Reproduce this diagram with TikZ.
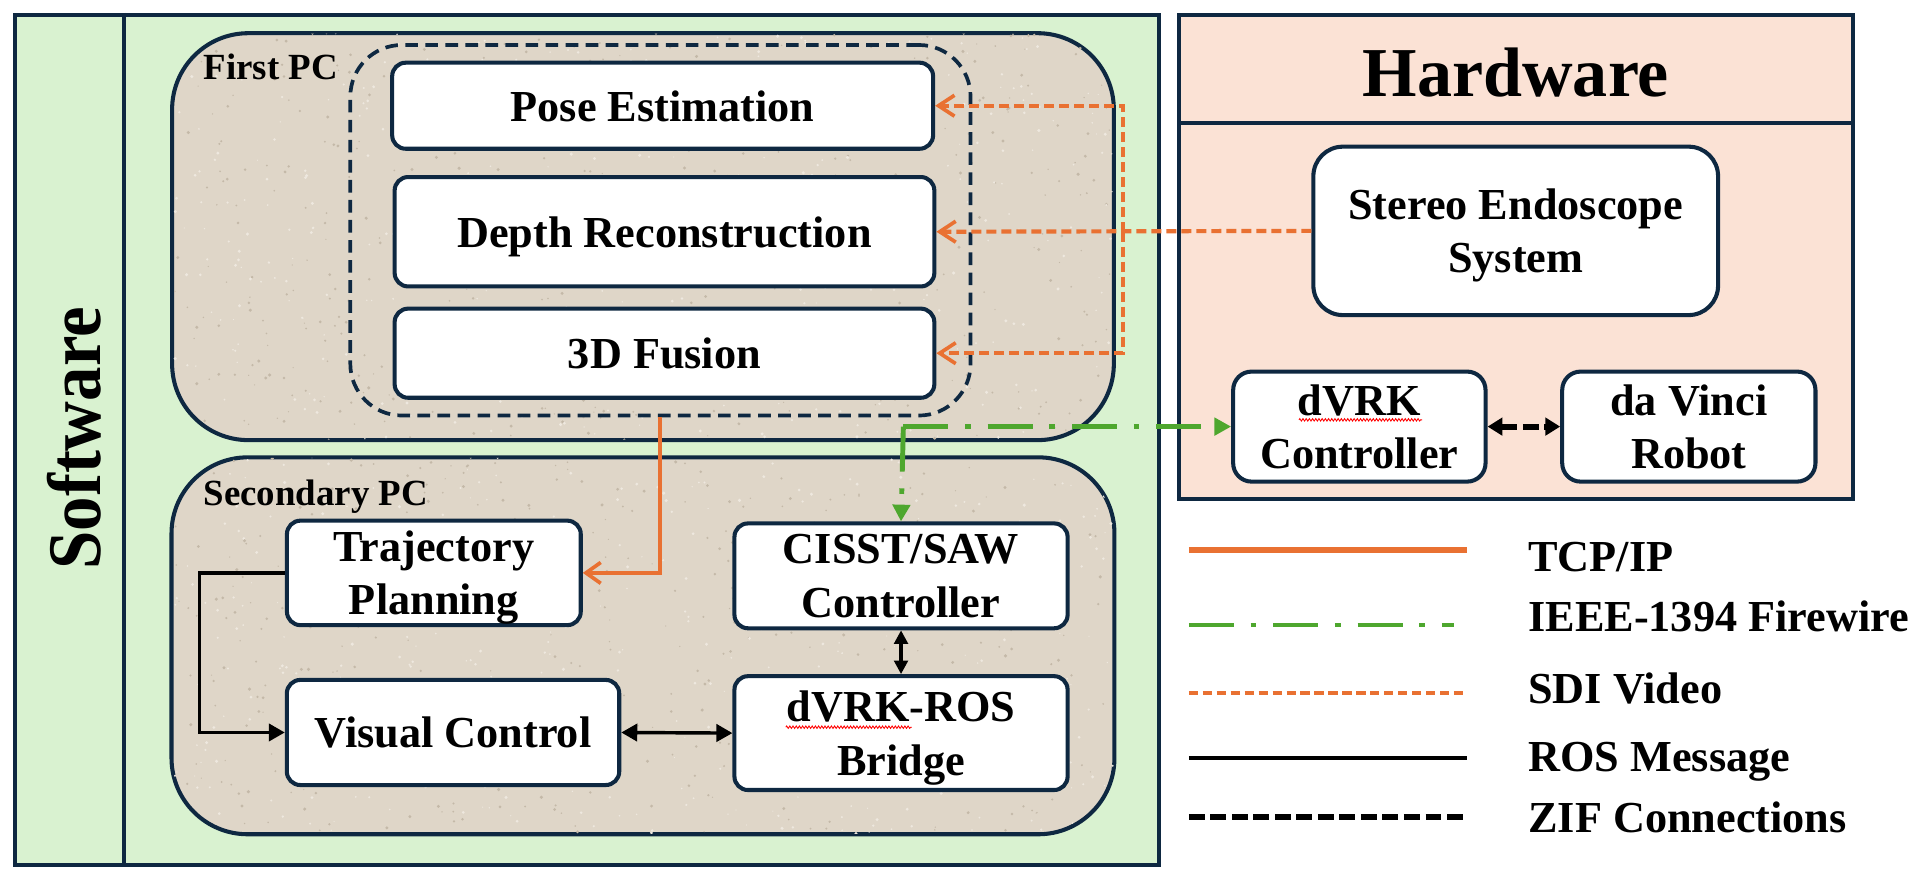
\documentclass[tikz,border=0pt]{standalone}
\usepackage{graphicx}
\usepackage{fontspec}
\setmainfont{Liberation Serif}
\usetikzlibrary{arrows.meta,decorations.pathmorphing}
\definecolor{navy}{HTML}{0E2841}
\definecolor{swgreen}{HTML}{D9F2D0}
\definecolor{hwpink}{HTML}{FBE2D5}
\definecolor{pcbeige}{HTML}{DFD6C8}
\definecolor{pcdark}{HTML}{C4B9A8}
\definecolor{pclight}{HTML}{EEE8DF}
\definecolor{orng}{HTML}{E97132}
\definecolor{grn}{HTML}{4EA72E}
\newcommand\bxfont{\fontsize{36}{43.5}\selectfont\bfseries}
\newcommand\lblfont{\fontsize{30}{34}\selectfont\bfseries}
\begin{document}
\begin{tikzpicture}[x=1pt,y=-1pt,
  box/.style={draw=navy, line width=3.3pt, fill=white, rounded corners=11pt, font=\bxfont, align=center, inner sep=0pt, text depth=0pt},
  frame/.style={draw=navy, line width=3.3pt, inner sep=0pt},
  pcbox/.style={draw=navy, line width=3.3pt, fill=pcbeige, rounded corners=62pt, inner sep=0pt},
  groupbox/.style={draw=navy, line width=3pt, dash pattern=on 10.3pt off 6pt, rounded corners=42pt, inner sep=0pt},
  sdi/.style={draw=orng, line width=3.4pt, dash pattern=on 8.1pt off 4.1pt},
  sditip/.style={-{Straight Barb[length=13pt,width=17pt,line width=3pt]}},
  tcp/.style={draw=orng, line width=3.3pt},
  fw/.style={draw=grn, line width=4pt, dash pattern=on 36.6pt off 13.6pt on 4.6pt off 13.8pt},
  ros/.style={draw=black, line width=2.8pt},
  rostip/.style={{Triangle[length=13pt,width=14pt]}-{Triangle[length=13pt,width=14pt]}},
  zif/.style={draw=black, line width=5pt, dash pattern=on 13pt off 4.5pt},
  lgd/.style={anchor=base west, font=\bxfont},
  squiggle/.style={draw=red, line width=0.7pt, decorate, decoration={zigzag, amplitude=1pt, segment length=2.6pt}}
]
\useasboundingbox[fill=white] (0,0) rectangle (1565,711);

% Software panel
\node[frame, fill=swgreen, minimum width=930.2pt, minimum height=691.1pt] (sw) at (477.4,357.75) {};
\draw[navy, line width=3.3pt] ([xshift=90.5pt]sw.north west) -- ([xshift=90.5pt]sw.south west);
\node[rotate=90, font=\fontsize{56}{60}\selectfont\bfseries] (swt) at (60,356.5) {\scalebox{1}[1.1]{Software}};

% Hardware panel
\node[frame, fill=hwpink, minimum width=547.7pt, minimum height=393.7pt] (hw) at (1233.15,209.05) {};
\draw[navy, line width=3.3pt] ([yshift=-89.5pt]hw.north west) -- ([yshift=-89.5pt]hw.north east);
\node[anchor=base, font=\fontsize{57}{60}\selectfont\bfseries] (hwt) at (1233,78.6) {Hardware};

% PCs
\node[pcbox, minimum width=766pt, minimum height=331pt] (firstpc) at (523,192.5) {};
\node[pcbox, minimum width=767pt, minimum height=306.6pt] (secpc) at (523,525.3) {};
% speckled texture
\pgfmathsetseed{4242}
\begin{scope}
  \clip[rounded corners=62pt] ([shift={(2pt,2pt)}]firstpc.south west) rectangle ([shift={(-2pt,-2pt)}]firstpc.north east);
  \foreach \i in {1,...,900}{
    \pgfmathsetmacro\px{140+766*rnd}
    \pgfmathsetmacro\py{27+331*rnd}
    \pgfmathsetmacro\pr{0.5+0.9*rnd}
    \ifodd\i \fill[pcdark] (\px,\py) circle (\pr); \else \fill[pclight] (\px,\py) circle (\pr); \fi
  }
\end{scope}
\begin{scope}
  \clip[rounded corners=62pt] ([shift={(2pt,2pt)}]secpc.south west) rectangle ([shift={(-2pt,-2pt)}]secpc.north east);
  \foreach \i in {1,...,850}{
    \pgfmathsetmacro\px{139.5+767*rnd}
    \pgfmathsetmacro\py{372+306.6*rnd}
    \pgfmathsetmacro\pr{0.5+0.9*rnd}
    \ifodd\i \fill[pcdark] (\px,\py) circle (\pr); \else \fill[pclight] (\px,\py) circle (\pr); \fi
  }
\end{scope}
\node[anchor=base west, font=\lblfont] (fpcl) at (162,65) {First PC};
\node[anchor=base west, font=\lblfont] (spcl) at (162,411) {Secondary PC};

% first PC group
\node[groupbox, minimum width=504.5pt, minimum height=301.4pt] (grp) at (537.2,187.3) {};
\node[box, minimum width=440pt, minimum height=70pt] (pose) at (539,86) {Pose Estimation};
\node[box, minimum width=439pt, minimum height=89pt] (depth) at (540.5,188.5) {Depth Reconstruction};
\node[box, minimum width=439pt, minimum height=72.5pt] (fusion) at (540.5,287.3) {3D Fusion};

% secondary PC
\node[box, minimum width=239pt, minimum height=85pt] (traj) at (352.9,466) {Trajectory\\Planning};
\node[box, minimum width=271pt, minimum height=85.3pt] (cisst) at (732.9,468.4) {CISST/SAW\\Controller};
\node[box, minimum width=270.4pt, minimum height=85.5pt] (vis) at (368.5,595.8) {Visual Control};
\node[box, minimum width=271pt, minimum height=92.6pt] (bridge) at (732.9,596.3) {dVRK-ROS\\Bridge};

% hardware boxes
\node[box, rounded corners=24pt, minimum width=329.2pt, minimum height=137pt] (stereo) at (1232.9,187.8) {Stereo Endoscope\\System};
\node[box, rounded corners=15pt, minimum width=205.3pt, minimum height=89.5pt] (dvrkc) at (1105.7,347) {dVRK\\Controller};
\node[box, rounded corners=15pt, minimum width=206pt, minimum height=89.5pt] (davinci) at (1373.7,347) {da Vinci\\Robot};

% spell-check squiggles
\draw[squiggle] (1056.6,341.5) -- (1156.7,341.5);
\draw[squiggle] (639.2,591.5) -- (741.8,591.5);

% connectors
\coordinate (sdij) at (913.2,188.5);
\draw[sdi, sditip] (stereo.west) -- (depth.east);
\draw[sdi, sditip] (sdij) |- (pose.east);
\draw[sdi, sditip] (sdij) |- (fusion.east);

\draw[tcp, -{Straight Barb[length=12pt,width=17pt,line width=3pt]}] (grp.south) |- (traj.east);

\coordinate (fwj) at (734.8,347);
\draw[fw, -{Triangle[length=13.6pt,width=14pt]}] (fwj) -- (dvrkc.west);
\draw[fw, -{Triangle[length=13.6pt,width=14pt]}] (fwj) -- (cisst.north);

\draw[ros, -{Triangle[length=13pt,width=14pt]}] (traj.west) -- ++(-69.3,0) |- (vis.west);
\draw[ros, rostip] (vis.east) -- (bridge.west);
\draw[ros, {Triangle[length=11pt,width=11pt]}-{Triangle[length=11pt,width=11pt]}] (cisst.south) -- (bridge.north);
\draw[zif, {Triangle[length=12pt,width=14pt]}-{Triangle[length=12pt,width=14pt]}] (dvrkc.east) -- (davinci.west);

% legend
\coordinate (l1a) at (967,447.4); \coordinate (l1b) at (1193.3,447.4);
\coordinate (l2a) at (967,508.4); \coordinate (l2b) at (1183,508.4);
\coordinate (l3a) at (967,563.4); \coordinate (l3b) at (1193.3,563.4);
\coordinate (l4a) at (967,616.3); \coordinate (l4b) at (1193.3,616.3);
\coordinate (l5a) at (967,664.8); \coordinate (l5b) at (1193.3,664.8);
\draw[orng, line width=4.5pt] (l1a) -- (l1b);
\draw[fw] (l2a) -- (l2b);
\draw[sdi, dash pattern=on 7.5pt off 3.85pt] (l3a) -- (l3b);
\draw[black, line width=3.5pt] (l4a) -- (l4b);
\draw[zif] (l5a) -- (l5b);
\node[lgd] (t1) at (1239.6,465) {TCP/IP};
\node[lgd] (t2) at (1239.6,513.8) {IEEE-1394 Firewire};
\node[lgd] (t3) at (1239.6,572) {SDI Video};
\node[lgd] (t4) at (1239.6,627.7) {ROS Message};
\node[lgd] (t5) at (1239.6,677.3) {ZIF Connections};
\end{tikzpicture}
\end{document}
